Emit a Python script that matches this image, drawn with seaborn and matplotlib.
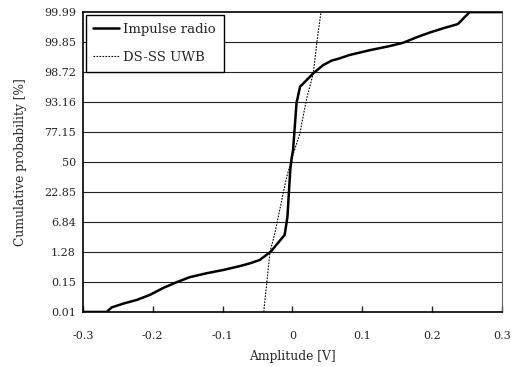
import numpy as np
import pandas as pd
import matplotlib
matplotlib.use("Agg")
import matplotlib.pyplot as plt
import seaborn as sns

# tick labels of the normal-probability axis (equally spaced levels 0..10)
prob_labels = ["0.01", "0.15", "1.28", "6.84", "22.85", "50",
               "77.15", "93.16", "98.72", "99.85", "99.99"]

# Impulse radio curve (amplitude [V], probability level)
ir_amp = [-0.300, -0.266, -0.259, -0.242, -0.223, -0.204, -0.185, -0.166,
          -0.147, -0.123, -0.099, -0.075, -0.061, -0.047, -0.031, -0.011,
          -0.007, -0.005, -0.003, -0.001, 0.001, 0.006, 0.011, 0.030,
          0.044, 0.056, 0.068, 0.082, 0.111, 0.140, 0.159, 0.178, 0.197,
          0.216, 0.237, 0.254, 0.300]
ir_lvl = [0.0, 0.0, 0.15, 0.28, 0.40, 0.57, 0.80, 0.99,
          1.16, 1.29, 1.40, 1.53, 1.62, 1.73, 2.01, 2.57,
          3.18, 3.97, 4.73, 5.13, 5.40, 6.97, 7.51, 7.96,
          8.23, 8.38, 8.46, 8.57, 8.73, 8.87, 8.98, 9.16, 9.32,
          9.46, 9.60, 10.0, 10.0]

# DS-SS UWB curve
ds_amp = [-0.041, -0.032, -0.025, -0.013, -0.008, 0.000, 0.011, 0.020,
          0.030, 0.035, 0.041]
ds_lvl = [0.0, 2.01, 2.63, 3.97, 4.51, 5.18, 5.97, 7.07, 7.96, 8.97, 10.0]

sns.set_style("white")
plt.rcParams["font.family"] = ["DejaVu Serif"]
plt.rcParams["axes.unicode_minus"] = False

fig = plt.figure(figsize=(5.12, 3.67), dpi=100)
ax = fig.add_axes([0.162, 0.150, 0.818, 0.817])

ir = pd.DataFrame({"amp": ir_amp, "lvl": ir_lvl})
ds = pd.DataFrame({"amp": ds_amp, "lvl": ds_lvl})

for lv in range(1, 10):
    ax.axhline(lv, color="#222222", lw=0.8, zorder=0)

sns.lineplot(data=ir, x="amp", y="lvl", sort=False, estimator=None,
             color="black", lw=1.8, label="Impulse radio", ax=ax)
sns.lineplot(data=ds, x="amp", y="lvl", sort=False, estimator=None,
             color="black", lw=0.8, linestyle=(0, (1.5, 1.2)),
             label="DS-SS UWB", ax=ax)

ax.set_xlim(-0.3, 0.3)
ax.set_ylim(0, 10)
ax.set_xticks(np.arange(-0.3, 0.31, 0.1))
ax.set_xticklabels(["-0.3", "-0.2", "-0.1", "0", "0.1", "0.2", "0.3"])
ax.set_yticks(range(11))
ax.set_yticklabels(prob_labels)
ax.tick_params(axis="x", direction="in", length=4, width=1, bottom=True,
               labelsize=8, pad=14)
ax.tick_params(axis="y", length=0, labelsize=8, pad=5)

ax.set_xlabel("Amplitude [V]", fontsize=8.8, labelpad=6)
ax.set_ylabel("Cumulative probability [%]", fontsize=8.8, labelpad=12)

for side in ["top", "left", "bottom"]:
    ax.spines[side].set_color("black")
    ax.spines[side].set_linewidth(1.2)
ax.spines["right"].set_color("#666666")
ax.spines["right"].set_linewidth(0.8)

leg = ax.legend(loc="upper left", fontsize=9.5, frameon=True, fancybox=False,
                edgecolor="black", framealpha=1, borderaxespad=0.2,
                handlelength=1.9, handletextpad=0.35, labelspacing=1.15,
                borderpad=0.6)
leg.get_frame().set_linewidth(1.0)

fig.savefig("out.png", dpi=100)
